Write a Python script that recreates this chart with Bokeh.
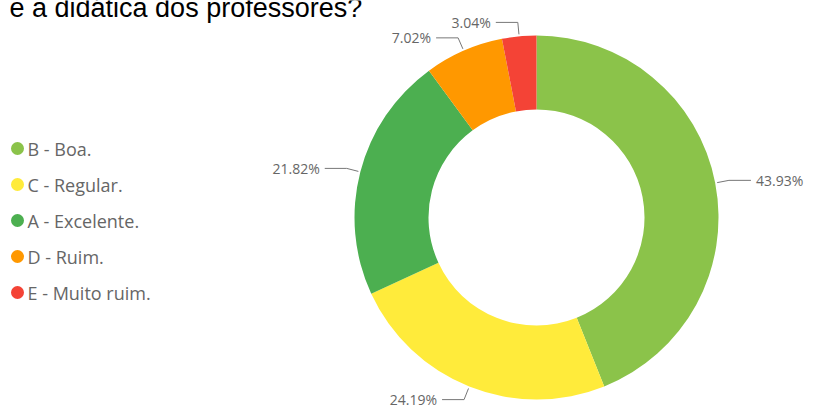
import math
from bokeh.plotting import figure
from bokeh.models import Range1d, ColumnDataSource
from bokeh.core.properties import value
from bokeh.embed import file_html
from bokeh.resources import INLINE

# ---- data ----
categories = ["B - Boa.", "C - Regular.", "A - Excelente.", "D - Ruim.", "E - Muito ruim."]
percents = [43.93, 24.19, 21.82, 7.02, 3.04]
colors = ["#8BC34A", "#FFEB3B", "#4CAF50", "#FF9800", "#F44336"]
title_text = "e a didática dos professores?"

# ---- layout (page pixel coords; y negated) ----
W, H = 815, 416
p = figure(width=W, height=H, output_backend="svg", toolbar_location=None,
           x_range=Range1d(0, W), y_range=Range1d(-H, 0),
           min_border=0)
p.axis.visible = False
p.grid.visible = False
p.outline_line_color = None
p.background_fill_color = "white"

cx, cy = 536, -217
r_out, r_in = 182, 108

total = sum(percents)
starts, ends, mids = [], [], []
cum = 0.0
for v in percents:
    a0 = math.pi / 2 - 2 * math.pi * cum / total
    cum += v
    a1 = math.pi / 2 - 2 * math.pi * cum / total
    starts.append(a0)
    ends.append(a1)
    mids.append((a0 + a1) / 2)

src = ColumnDataSource(dict(start=starts, end=ends, color=colors))
p.annular_wedge(x=cx, y=cy, inner_radius=r_in, outer_radius=r_out,
                start_angle="start", end_angle="end", direction="clock",
                fill_color="color", line_color=None, source=src)

# leader lines + labels
xs, ys, lx, ly, ltxt, lalign = [], [], [], [], [], []
for m, v in zip(mids, percents):
    ax = cx + (r_out + 2) * math.cos(m)
    ay = cy + (r_out + 2) * math.sin(m)
    ex = cx + (r_out + 14) * math.cos(m)
    ey = cy + (r_out + 14) * math.sin(m)
    side = 1 if math.cos(m) > 0 else -1
    hx = ex + side * 22
    xs.append([ax, ex, hx])
    ys.append([ay, ey, ey])
    lx.append(hx + side * 5)
    ly.append(ey)
    ltxt.append(f"{v:.2f}%")
    lalign.append("left" if side > 0 else "right")

p.multi_line(xs=xs, ys=ys, line_color="#777777", line_width=1)
p.text(x=lx, y=ly, text=ltxt, text_align=lalign, text_baseline="middle",
       text_font=value("Open Sans"), text_font_size="14px", text_color="#666666")

# legend
leg_y = [-148 - 36 * i for i in range(len(categories))]
p.scatter(x=[17] * len(categories), y=leg_y, size=13, marker="circle",
          fill_color=colors, line_color=None)
p.text(x=[27] * len(categories), y=leg_y, text=categories, text_align="left",
       text_baseline="middle", text_font=value("Open Sans"), text_font_size="18px",
       text_color="#666666")

# clipped title
p.text(x=[9], y=[-7], text=[title_text], text_align="left", text_baseline="alphabetic",
       text_font=value("Liberation Sans"), text_font_size="27px", text_color="#000000")

open("out.html", "w").write(file_html(p, INLINE))
